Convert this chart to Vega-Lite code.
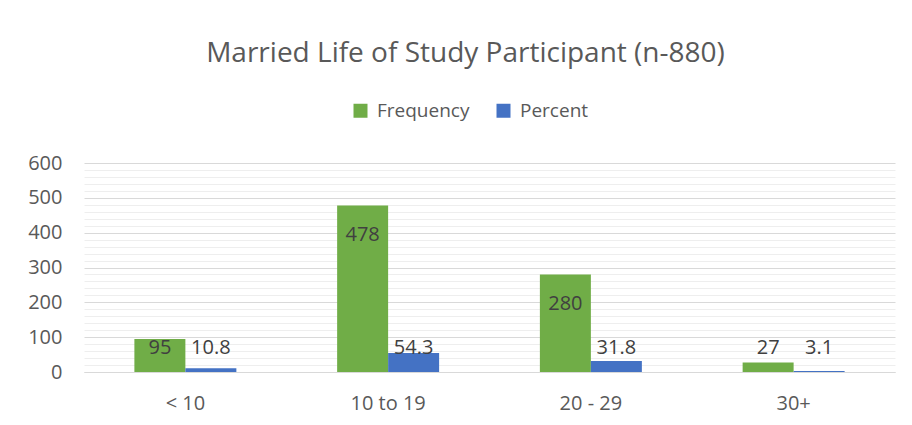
{
  "$schema": "https://vega.github.io/schema/vega-lite/v6.json",
  "autosize": "none",
  "width": 811,
  "height": 209,
  "padding": {"left": 84, "top": 163, "right": 17, "bottom": 53},
  "background": "white",
  "title": {
    "text": "Married Life of Study Participant (n-880)",
    "font": "Open Sans",
    "fontSize": 28,
    "fontWeight": "normal",
    "color": "#595959",
    "frame": "group",
    "anchor": "middle",
    "dx": -24,
    "offset": 33
  },
  "data": {
    "values": [
      {"age": "< 10", "series": "Frequency", "v": 95},
      {"age": "< 10", "series": "Percent", "v": 10.8},
      {"age": "10 to 19", "series": "Frequency", "v": 478},
      {"age": "10 to 19", "series": "Percent", "v": 54.3},
      {"age": "20 - 29", "series": "Frequency", "v": 280},
      {"age": "20 - 29", "series": "Percent", "v": 31.8},
      {"age": "30+", "series": "Frequency", "v": 27},
      {"age": "30+", "series": "Percent", "v": 3.1}
    ]
  },
  "encoding": {
    "x": {
      "field": "age",
      "type": "nominal",
      "sort": null,
      "scale": {"paddingInner": 0.497, "paddingOuter": 0.2485},
      "axis": {
        "title": null,
        "labelAngle": 0,
        "labelFont": "Open Sans",
        "labelFontSize": 20,
        "labelColor": "#595959",
        "labelPadding": 21,
        "ticks": false,
        "domainColor": "#d9d9d9",
        "domainWidth": 1,
        "grid": false
      }
    },
    "xOffset": {"field": "series", "type": "nominal", "scale": {"paddingInner": 0, "paddingOuter": 0}}
  },
  "layer": [
    {
      "mark": {"type": "bar"},
      "encoding": {
        "y": {
          "field": "v",
          "type": "quantitative",
          "scale": {"domain": [0, 600], "nice": false},
          "axis": {
            "title": null,
            "values": [0,20,40,60,80,100,120,140,160,180,200,220,240,260,280,300,320,340,360,380,400,420,440,460,480,500,520,540,560,580,600],
            "labelExpr": "datum.value % 100 === 0 ? datum.label : ''",
            "labelOverlap": false,
            "labelFont": "Open Sans",
            "labelFontSize": 20,
            "labelColor": "#595959",
            "labelPadding": 22,
            "ticks": false,
            "domain": false,
            "grid": true,
            "gridColor": {"condition": {"test": "datum.value % 100 === 0", "value": "#d9d9d9"}, "value": "#eeeeee"},
            "gridWidth": 1
          }
        },
        "color": {
          "field": "series",
          "type": "nominal",
          "scale": {"domain": ["Frequency", "Percent"], "range": ["#70AD47", "#4472C4"]},
          "legend": {
            "title": null,
            "orient": "none",
            "direction": "horizontal",
            "legendX": 267,
            "legendY": -62,
            "symbolType": "square",
            "symbolSize": 196,
            "symbolStrokeWidth": 0,
            "labelFont": "Open Sans",
            "labelFontSize": 19,
            "labelColor": "#595959",
            "labelOffset": 7,
            "columnPadding": 24
          }
        }
      }
    },
    {
      "transform": [{"calculate": "datum.v > 150 ? datum.v - 103 : 52", "as": "ly"}],
      "mark": {"type": "text", "baseline": "alphabetic", "align": "center", "font": "Open Sans", "fontSize": 20, "color": "#404040"},
      "encoding": {
        "y": {
          "field": "ly",
          "type": "quantitative",
          "axis": {
            "title": null,
            "values": [0,20,40,60,80,100,120,140,160,180,200,220,240,260,280,300,320,340,360,380,400,420,440,460,480,500,520,540,560,580,600],
            "labelExpr": "datum.value % 100 === 0 ? datum.label : ''",
            "labelOverlap": false,
            "labelFont": "Open Sans",
            "labelFontSize": 20,
            "labelColor": "#595959",
            "labelPadding": 22,
            "ticks": false,
            "domain": false,
            "grid": true,
            "gridColor": {"condition": {"test": "datum.value % 100 === 0", "value": "#d9d9d9"}, "value": "#eeeeee"},
            "gridWidth": 1
          }
        },
        "text": {"field": "v", "type": "nominal"}
      }
    }
  ],
  "config": {"view": {"stroke": null}}
}
